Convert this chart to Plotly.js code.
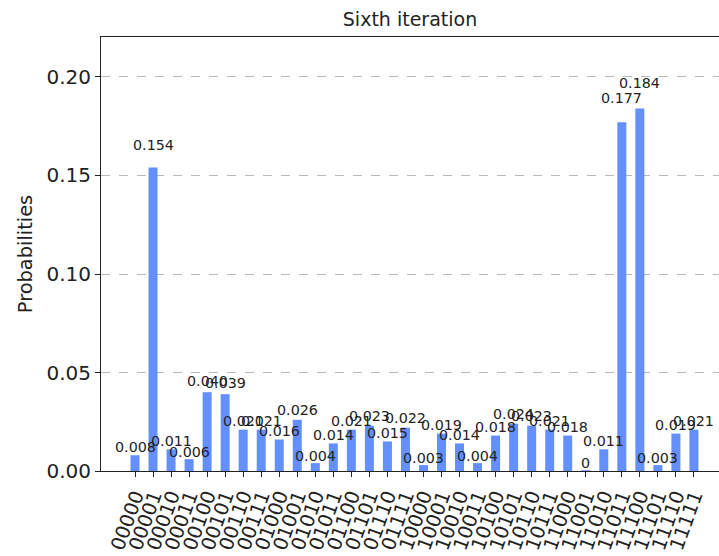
<!DOCTYPE html>
<html>
<head>
<meta charset="utf-8">
<script src="https://cdn.plot.ly/plotly-3.0.1.min.js"></script>
<style>html,body{margin:0;padding:0;background:#fff;}#chart{width:719px;height:556px;}</style>
</head>
<body>
<div id="chart"></div>
<script>
const states = ["00000","00001","00010","00011","00100","00101","00110","00111",
  "01000","01001","01010","01011","01100","01101","01110","01111",
  "10000","10001","10010","10011","10100","10101","10110","10111",
  "11000","11001","11010","11011","11100","11101","11110","11111"];
const probabilities = [0.008,0.154,0.011,0.006,0.040,0.039,0.021,0.021,
  0.016,0.026,0.004,0.014,0.021,0.023,0.015,0.022,
  0.003,0.019,0.014,0.004,0.018,0.024,0.023,0.021,
  0.018,0.0004,0.011,0.177,0.184,0.003,0.019,0.021];
const valueLabels = ["0.008","0.154","0.011","0.006","0.040","0.039","0.021","0.021",
  "0.016","0.026","0.004","0.014","0.021","0.023","0.015","0.022",
  "0.003","0.019","0.014","0.004","0.018","0.024","0.023","0.021",
  "0.018","0","0.011","0.177","0.184","0.003","0.019","0.021"];
const yTicks = [0, 0.05, 0.10, 0.15, 0.20];
const yTickText = ["0.00","0.05","0.10","0.15","0.20"];

const font = "DejaVu Sans, sans-serif";
const idx = states.map((s, i) => i);
const annotations = idx.map(i => ({
  x: i, y: probabilities[i] * 1.05, xref: "x", yref: "y",
  text: valueLabels[i], showarrow: false, yanchor: "bottom", xanchor: "center",
  borderpad: 0, yshift: -2,
  font: {family: font, size: 14.3, color: "#222"}
}));

const trace = {
  type: "bar", x: idx, y: probabilities, width: 0.5,
  marker: {color: "#648fff", line: {width: 0}},
  hoverinfo: "y"
};

const layout = {
  width: 719, height: 556,
  margin: {l: 101, r: 0, t: 37, b: 85, pad: 0},
  paper_bgcolor: "#fff", plot_bgcolor: "#fff",
  showlegend: false,
  title: {text: "Sixth iteration", font: {family: font, size: 19, color: "#222"},
    x: 0.5, xref: "paper", y: 1 - 19.5/556, yref: "container", yanchor: "middle"},
  xaxis: {
    type: "linear", range: [-1.886, 32.39], autorange: false,
    tickmode: "array", tickvals: idx, ticktext: states,
    tickangle: -70, tickfont: {family: font, size: 19.4, color: "#222"},
    ticks: "outside", ticklen: 5, tickcolor: "#222",
    showline: true, linecolor: "#222", linewidth: 1, mirror: true,
    showgrid: false, zeroline: false, automargin: false
  },
  yaxis: {
    range: [0, 0.2203], autorange: false,
    tickvals: yTicks, ticktext: yTickText,
    tickfont: {family: font, size: 20, color: "#222"},
    ticks: "outside", ticklen: 5, tickcolor: "#222",
    showline: true, linecolor: "#222", linewidth: 1,
    showgrid: true, gridcolor: "#b8b8b8", griddash: "dash", gridwidth: 1,
    zeroline: false, automargin: false,
    title: {text: "Probabilities", font: {family: font, size: 19.4, color: "#222"}, standoff: 8}
  },
  annotations: annotations
};

Plotly.newPlot("chart", [trace], layout, {staticPlot: true, displayModeBar: false});
</script>
</body>
</html>
